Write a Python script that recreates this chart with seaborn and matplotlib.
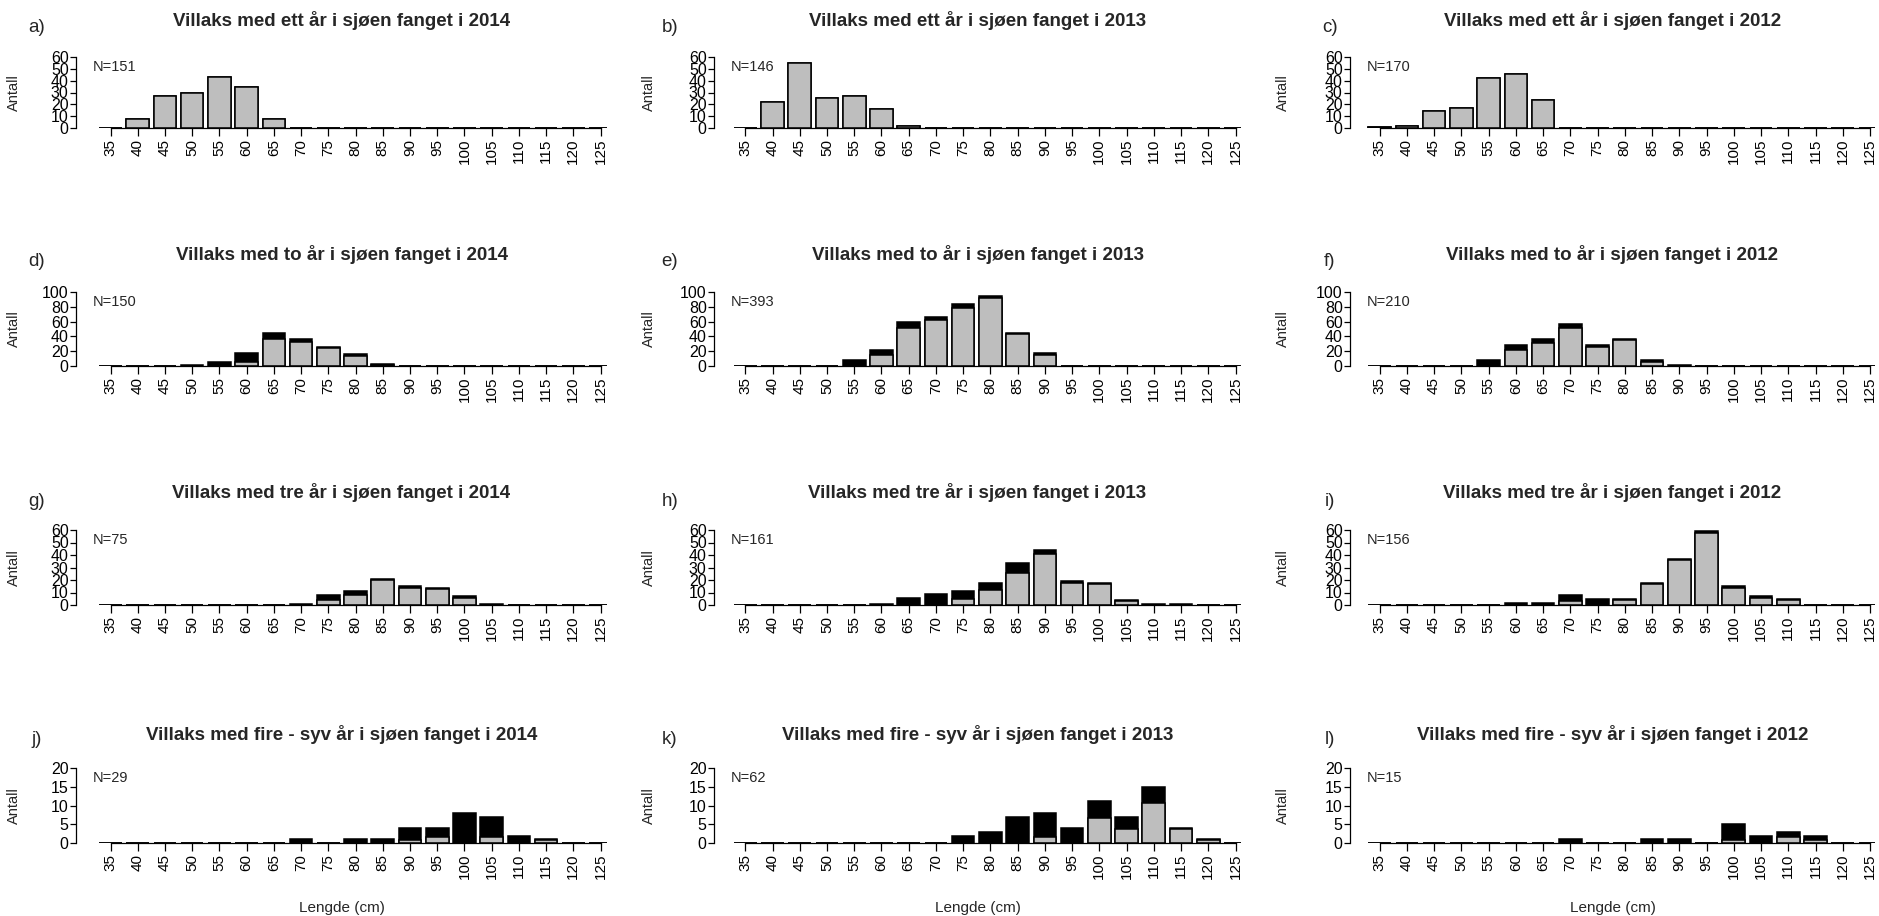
import matplotlib
matplotlib.use("Agg")
import matplotlib.pyplot as plt
import seaborn as sns
import numpy as np

sns.set_style("ticks")
plt.rcParams['font.family'] = ['Liberation Sans', 'DejaVu Sans']

# ---------------- data ----------------
lengths = [35, 40, 45, 50, 55, 60, 65, 70, 75, 80, 85, 90, 95, 100, 105, 110, 115, 120, 125]
tick_labels = [str(v) for v in lengths]

def series(d):
    return [d.get(v, 0) for v in lengths]

# row 1: ett år i sjøen (gray only)
a_gray = series({40: 8, 45: 27, 50: 30, 55: 43, 60: 35, 65: 8})
a_black = series({})
b_gray = series({40: 22, 45: 55, 50: 25, 55: 27, 60: 16, 65: 2})
b_black = series({})
c_gray = series({35: 1, 40: 2, 45: 14, 50: 17, 55: 42, 60: 46, 65: 24})
c_black = series({})
# row 2: to år i sjøen
d_gray = series({60: 6, 65: 37, 70: 33, 75: 25, 80: 14, 85: 2})
d_black = series({50: 2, 55: 6, 60: 11, 65: 7, 70: 3, 75: 1, 80: 2, 85: 1})
e_gray = series({60: 15, 65: 52, 70: 62, 75: 79, 80: 92, 85: 43, 90: 15})
e_black = series({55: 8, 60: 6, 65: 7, 70: 4, 75: 5, 80: 2, 85: 1, 90: 2})
f_gray = series({60: 22, 65: 31, 70: 52, 75: 26, 80: 35, 85: 6})
f_black = series({55: 8, 60: 6, 65: 5, 70: 5, 75: 2, 80: 1, 85: 2, 90: 2})
# row 3: tre år i sjøen
g_gray = series({75: 4, 80: 8, 85: 20, 90: 14, 95: 13, 100: 6})
g_black = series({70: 1, 75: 4, 80: 3, 85: 1, 90: 1, 95: 1, 100: 1, 105: 1})
h_gray = series({75: 5, 80: 12, 85: 26, 90: 41, 95: 18, 100: 17, 105: 3})
h_black = series({60: 1, 65: 6, 70: 9, 75: 6, 80: 6, 85: 8, 90: 3, 95: 1, 100: 1, 105: 1, 110: 1, 115: 1})
i_gray = series({70: 3, 80: 4, 85: 17, 90: 36, 95: 58, 100: 14, 105: 6, 110: 4})
i_black = series({60: 2, 65: 2, 70: 5, 75: 5, 80: 1, 85: 1, 90: 1, 95: 1, 100: 1, 105: 1, 110: 1})
# row 4: fire - syv år i sjøen
j_gray = series({90: 0.8, 95: 1.6, 105: 1.6, 115: 0.8})
j_black = series({70: 1, 80: 1, 85: 1, 90: 3.2, 95: 2.4, 100: 8, 105: 5.4, 110: 2, 115: 0.2})
k_gray = series({90: 1.6, 100: 6.8, 105: 3.8, 110: 10.8, 115: 3.7, 120: 0.8})
k_black = series({75: 2, 80: 3, 85: 7, 90: 6.4, 95: 4, 100: 4.4, 105: 3.2, 110: 4.2, 115: 0.3, 120: 0.3})
l_gray = series({100: 0.8, 110: 1.6, 115: 0.8})
l_black = series({70: 1, 85: 1, 90: 1, 100: 4.2, 105: 2, 110: 1.4, 115: 1.2})

panel_letters = ["a)", "b)", "c)", "d)", "e)", "f)", "g)", "h)", "i)", "j)", "k)", "l)"]
sea_years = ["ett", "to", "tre", "fire - syv"]
catch_years = ["2014", "2013", "2012"]
n_labels = ["N=151", "N=146", "N=170", "N=150", "N=393", "N=210",
            "N=75", "N=161", "N=156", "N=29", "N=62", "N=15"]
row_ymax = [60, 100, 60, 20]
row_ystep = [10, 20, 10, 5]

grays = [a_gray, b_gray, c_gray, d_gray, e_gray, f_gray, g_gray, h_gray, i_gray, j_gray, k_gray, l_gray]
blacks = [a_black, b_black, c_black, d_black, e_black, f_black, g_black, h_black, i_black, j_black, k_black, l_black]

# ---------------- layout (pixels) ----------------
FW, FH = 1879, 916
fig = plt.figure(figsize=(FW / 100, FH / 100), dpi=100)

col_left = [76, 714, 1350]
col_right = [607, 1241, 1875]
col_tick0 = [110.5, 745.3, 1379.6]
col_tick18 = [600.6, 1235.5, 1870]
col_letter_x = [37, 670, 1330]
col_ylab_off = [55, 58, 60]
row_base = [128, 366, 605, 843]
row_height = [71, 74, 75, 75]
row_title_y = [21, 255, 493, 735]
row_letter_y = [27, 262, 502, 740]

BAR_GRAY = "#BEBEBE"

for r in range(4):
    for c in range(3):
        idx = r * 3 + c
        L = col_left[c]
        W = col_right[c] - L
        B, H = row_base[r], row_height[r]
        ax = fig.add_axes([L / FW, 1 - B / FH, W / FW, H / FH])
        gray = np.array(grays[idx], dtype=float)
        black = np.array(blacks[idx], dtype=float)
        total = gray + black
        sns.barplot(x=tick_labels, y=total, order=tick_labels, color="black",
                    edgecolor="black", linewidth=1.1, width=0.83, saturation=1,
                    errorbar=None, ax=ax)
        sns.barplot(x=tick_labels, y=gray, order=tick_labels, color=BAR_GRAY,
                    edgecolor="black", linewidth=1.1, width=0.83, saturation=1,
                    errorbar=None, ax=ax)
        s = (col_tick18[c] - col_tick0[c]) / 18.0
        ax.set_xlim(-(col_tick0[c] - L) / s, (L + W - col_tick0[c]) / s)
        ax.set_ylim(0, row_ymax[r])
        ax.set_xticks(range(len(lengths)))
        ax.set_xticklabels(tick_labels, rotation=90, fontsize=11)
        yt = list(range(0, row_ymax[r] + 1, row_ystep[r]))
        ax.set_yticks(yt)
        ax.set_yticklabels([str(v) for v in yt], fontsize=11.5)
        for sp in ["top", "right"]:
            ax.spines[sp].set_visible(False)
        ax.spines["left"].set_bounds(0, row_ymax[r])
        ax.spines["bottom"].set_bounds(0, 18)
        for sp in ["left", "bottom"]:
            ax.spines[sp].set_linewidth(0.9)
            ax.spines[sp].set_color("black")
        ax.tick_params(axis="x", direction="out", length=5.8, width=0.9, pad=2, colors="black")
        ax.tick_params(axis="y", direction="out", length=4.3, width=0.9, pad=1, colors="black")
        ax.set_xlabel("")
        ax.set_ylabel("Antall", fontsize=10.5)
        ax.yaxis.set_label_coords(-col_ylab_off[c] / W, 0.5)
        ax.patch.set_alpha(0)
        ax.text(17 / W, 1 - 10 / H, n_labels[idx], transform=ax.transAxes,
                ha="left", va="center", fontsize=10.5)
        title = f"Villaks med {sea_years[r]} år i sjøen fanget i {catch_years[c]}"
        tcx = L + W / 2
        fig.text(tcx / FW, 1 - row_title_y[r] / FH, title, ha="center", va="center",
                 fontsize=13.5, fontweight="bold")
        fig.text(col_letter_x[c] / FW, 1 - row_letter_y[r] / FH, panel_letters[idx],
                 ha="center", va="center", fontsize=13.5)
        if r == 3:
            fig.text(tcx / FW, 1 - 908 / FH, "Lengde (cm)", ha="center", va="center",
                     fontsize=11)

fig.savefig("out.png", dpi=100, facecolor="white")
